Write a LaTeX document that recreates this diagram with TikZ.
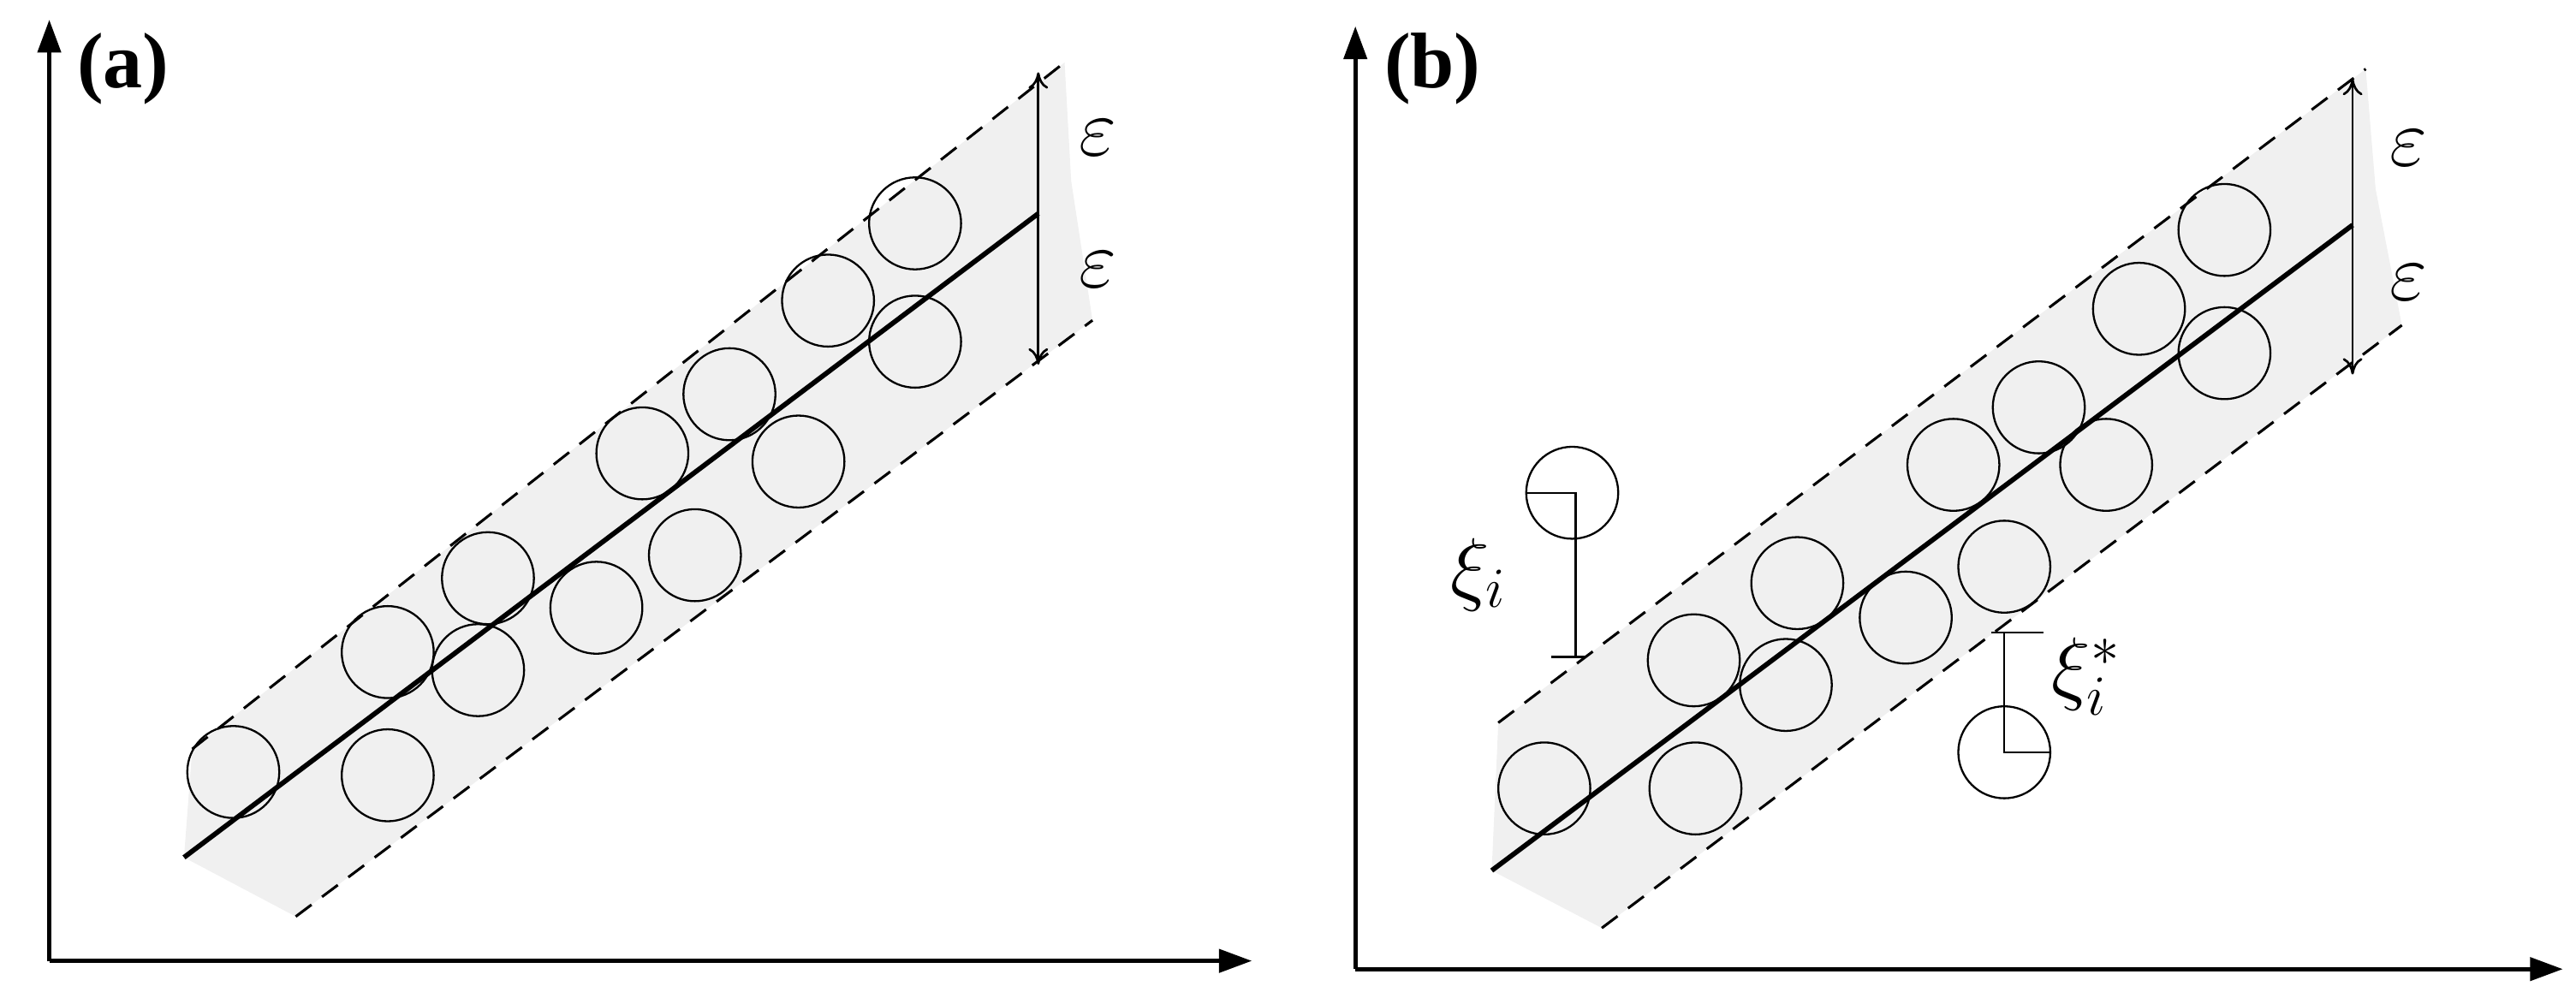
\documentclass[tikz,border=0pt]{standalone}
\usepackage{fontspec}
\setmainfont{Liberation Serif}
\usetikzlibrary{arrows.meta}
\begin{document}
\begin{tikzpicture}[x=0.5pt,y=-0.5pt,
  ax/.style={line width=1.3pt,-{Triangle[length=10pt,width=7pt]}},
  reg/.style={line width=1.5pt},
  dsh/.style={line width=0.8pt,dash pattern=on 6pt off 4pt},
  pt/.style={circle,draw,line width=0.6pt,minimum size=28pt,inner sep=0pt},
  eps/.style={-{To[length=5pt,width=6pt]},line width=0.7pt},
  lab/.style={font=\fontsize{26}{30}\selectfont},
  pl/.style={font=\fontsize{24}{28}\selectfont\bfseries},
  gfill/.style={fill=black!6}]
\useasboundingbox (0,0) rectangle (1568,611);
% ---------- panel (a)
\fill[gfill] (117,456) -- (648,38) -- (652,110) -- (665,195) -- (180,558) -- (112,522) -- cycle;
\coordinate (ao) at (30,585);
\coordinate (ay) at (30,12);
\coordinate (ax) at (762,585);
\draw[ax] (ao) -- (ay);
\draw[ax] (ao) -- (ax);
\node[pl] (la) at (75,42) {(a)};
\coordinate (ua1) at (117,456); \coordinate (ua2) at (648,38);
\coordinate (da1) at (180,558); \coordinate (da2) at (665,195);
\draw[dsh] (ua1) -- (ua2);
\draw[dsh] (da1) -- (da2);
\foreach \i/\p in {1/{(142,470)},2/{(236,397)},3/{(236,472)},4/{(297,352)},5/{(291,408)},6/{(363,370)},7/{(391,276)},8/{(423,338)},9/{(444,240)},10/{(486,281)},11/{(504,183)},12/{(557,136)},13/{(557,208)}}
  \node[pt] (a\i) at \p {};
\coordinate (ac1) at (112,522); \coordinate (ac2) at (632,130);
\draw[reg] (ac1) -- (ac2);
\coordinate (aet) at (632,44); \coordinate (aeb) at (632,222);
\draw[eps] (ac2) -- (aet);
\draw[eps] (ac2) -- (aeb);
\node[lab] (ae1) at (668,84) {$\varepsilon$};
\node[lab] (ae2) at (668,164) {$\varepsilon$};
% ---------- panel (b)
\fill[gfill] (912,440) -- (1440,42) -- (1446,115) -- (1462,198) -- (975,565) -- (908,530) -- cycle;
\coordinate (bo) at (825,590);
\coordinate (by) at (825,16);
\coordinate (bx) at (1560,590);
\draw[ax] (bo) -- (by);
\draw[ax] (bo) -- (bx);
\node[pl] (lb) at (872,42) {(b)};
\coordinate (ub1) at (912,440); \coordinate (ub2) at (1440,42);
\coordinate (db1) at (975,565); \coordinate (db2) at (1462,198);
\draw[dsh] (ub1) -- (ub2);
\draw[dsh] (db1) -- (db2);
\foreach \i/\p in {1/{(940,480)},2/{(1032,480)},3/{(1031,402)},4/{(1094,355)},5/{(1087,417)},6/{(1160,376)},7/{(1189,283)},8/{(1220,345)},9/{(1241,248)},10/{(1282,283)},11/{(1302,188)},12/{(1354,140)},13/{(1354,215)}}
  \node[pt] (b\i) at \p {};
\coordinate (bc1) at (908,530); \coordinate (bc2) at (1432,137);
\draw[reg] (bc1) -- (bc2);
\coordinate (bet) at (1432,48); \coordinate (beb) at (1432,228);
\draw[eps] (bc2) -- (bet);
\draw[eps] (bc2) -- (beb);
\node[lab] (be1) at (1466,90) {$\varepsilon$};
\node[lab] (be2) at (1466,172) {$\varepsilon$};
% xi_i
\node[pt] (xi) at (957,300) {};
\coordinate (xib) at (959,400);
\draw[line width=0.6pt] (xi.west) -- (959,300) -- (xib);
\draw[line width=0.6pt] (944,400) -- (965,400);
\node[lab] (xil) at (900,350) {$\xi_i$};
% xi_i^*
\node[pt] (xs) at (1220,458) {};
\coordinate (xst) at (1220,385);
\draw[line width=0.6pt] (xst) -- (xs.center) -- (xs.east);
\draw[line width=0.6pt] (1212,385) -- (1244,385);
\node[lab] (xsl) at (1270,412) {$\xi_i^*$};
\end{tikzpicture}
\end{document}
